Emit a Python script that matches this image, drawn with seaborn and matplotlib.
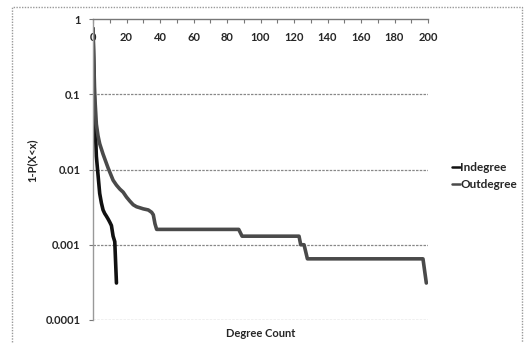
import numpy as np
import pandas as pd
import matplotlib.pyplot as plt
import matplotlib.patches as mpatches
import matplotlib.ticker as mticker
from matplotlib.lines import Line2D
import seaborn as sns

# -------------------------------------------------------
# Data (complementary CDF of degree)
# -------------------------------------------------------

indeg_x = [0, 1, 2, 3, 4, 5, 6, 7, 8, 9, 10, 11, 12, 13, 14]
indeg_y = [0.75, 0.06, 0.015, 0.0085, 0.0048, 0.0036, 0.0029, 0.0026,
           0.0024, 0.0022, 0.002, 0.0018, 0.0013, 0.0011, 0.00031]

outdeg_x = [0, 1, 2, 3, 4, 6, 9, 12, 14, 16, 18, 20, 22, 24, 26, 28, 30,
            33, 35, 36, 37, 38, 87, 89, 123, 124, 126, 128, 197, 199]
outdeg_y = [0.75, 0.1, 0.04, 0.028, 0.022, 0.016, 0.0105, 0.0072, 0.0062,
            0.0055, 0.005, 0.0043, 0.0038, 0.0034, 0.0032, 0.0031, 0.003,
            0.0029, 0.0027, 0.0025, 0.0019, 0.0016, 0.0016, 0.0013, 0.0013,
            0.001, 0.001, 0.00065, 0.00065, 0.00031]

series_names = ["Indegree", "Outdegree"]
series_colors = ["#111111", "#4a4a4a"]
x_ticks = [0, 20, 40, 60, 80, 100, 120, 140, 160, 180, 200]
y_ticks = [0.0001, 0.001, 0.01, 0.1, 1]
y_tick_labels = ["0.0001", "0.001", "0.01", "0.1", "1"]

df_in = pd.DataFrame({"x": indeg_x, "y": indeg_y})
df_out = pd.DataFrame({"x": outdeg_x, "y": outdeg_y})

# -------------------------------------------------------
# Plot Style
# -------------------------------------------------------

sns.set_theme(style="white")
plt.rcParams["font.family"] = ["Lato", "DejaVu Sans"]
plt.rcParams["font.weight"] = "bold"

fig = plt.figure(figsize=(5.25, 3.43), dpi=100)
ax = fig.add_axes([93 / 525, 23 / 343, 335 / 525, 301 / 343])

sns.lineplot(data=df_in, x="x", y="y", ax=ax, sort=False,
             color=series_colors[0], linewidth=2.6)
sns.lineplot(data=df_out, x="x", y="y", ax=ax, sort=False,
             color=series_colors[1], linewidth=2.6)

ax.set_yscale("log")
ax.set_xlim(0, 200)
ax.set_ylim(0.0001, 1)
ax.set_axisbelow(True)

ax.set_yticks(y_ticks)
ax.set_yticklabels(y_tick_labels)
ax.yaxis.set_minor_locator(mticker.NullLocator())
ax.set_xticks(x_ticks)
ax.set_xticks(np.arange(10, 200, 20), minor=True)

ax.tick_params(axis="x", which="both", top=True, bottom=False,
               labeltop=True, labelbottom=False, direction="in",
               length=3, width=0.8, color="#777777")
ax.tick_params(axis="x", which="major", pad=-17.5, labelsize=8)
ax.tick_params(axis="y", which="major", left=True, direction="out",
               length=3, width=0.8, color="#777777", pad=6, labelsize=8)

for spine in ["right", "bottom"]:
    ax.spines[spine].set_visible(False)
ax.spines["top"].set_color("#777777")
ax.spines["top"].set_linewidth(1)
ax.spines["left"].set_color("#999999")
ax.spines["left"].set_linestyle((0, (1, 1)))
ax.spines["left"].set_linewidth(1)

for yv in y_ticks[:-1]:
    ax.axhline(yv, color="#888888", linewidth=0.9,
               linestyle=(0, (2, 1)), zorder=0.6)

ax.set_xlabel("Degree Count", fontsize=8, fontweight="bold")
ax.xaxis.set_label_coords(0.5, -0.025)
ax.set_ylabel("1-P(X<x)", fontsize=8, fontweight="bold")
ax.yaxis.set_label_coords(-0.165, 0.53)

handles = [Line2D([], [], color=c, linewidth=1.8) for c in series_colors]
fig.legend(handles, series_names, loc="center left",
           bbox_to_anchor=(441 / 525, 1 - 176 / 343),
           frameon=False, handlelength=0.7, handletextpad=0.05,
           labelspacing=0.45, fontsize=8.5)

# outer chart-area border
fig.patches.append(mpatches.Rectangle(
    (12 / 525, -0.02), 510 / 525, 1 - 7 / 343 + 0.02,
    transform=fig.transFigure, fill=False,
    edgecolor="#999999", linewidth=1, linestyle=(0, (1, 1))))

plt.savefig("out.png", dpi=100)
plt.close()
